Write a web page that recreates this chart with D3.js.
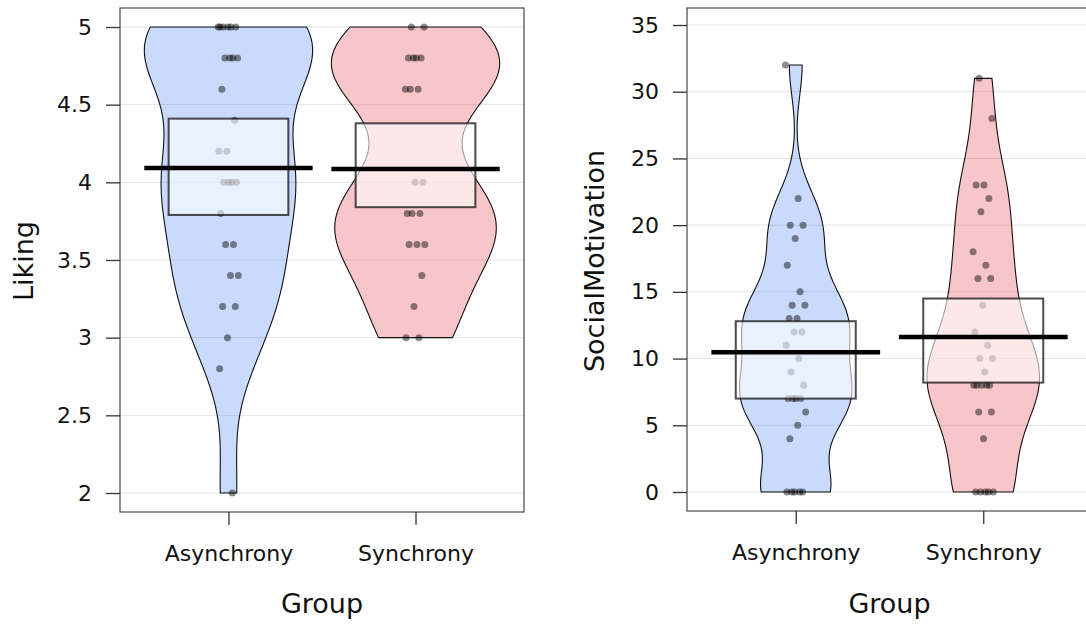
<!DOCTYPE html>
<html lang="en">
<head>
<meta charset="utf-8">
<title>Pirate plots</title>
<script src="https://cdn.jsdelivr.net/npm/d3@7"></script>
<style>
  body { margin: 0; background: #fff; }
  svg text { font-family: "DejaVu Sans", sans-serif; fill: #111; }
</style>
</head>
<body>
<svg id="chart" width="1086" height="624"></svg>
<script>
var groups = ["Asynchrony", "Synchrony"];

// Liking scores per group
var likingAsync = [5, 5, 5, 5, 5, 5, 4.8, 4.8, 4.8, 4.8, 4.6, 4.4, 4.2, 4.2, 4, 4, 4, 4, 3.8, 3.6, 3.6, 3.4, 3.4, 3.2, 3.2, 3, 2.8, 2];
var likingSync = [5, 5, 4.8, 4.8, 4.8, 4.8, 4.6, 4.6, 4.6, 4, 4, 3.8, 3.8, 3.8, 3.6, 3.6, 3.6, 3.4, 3.2, 3, 3];

// SocialMotivation scores per group
var motivAsync = [32, 22, 20, 20, 19, 17, 15, 14, 14, 13, 13, 12, 12, 11, 10, 9, 8, 7, 7, 7, 7, 6, 5, 4, 0, 0, 0, 0, 0];
var motivSync = [31, 28, 23, 23, 22, 21, 18, 17, 16, 16, 14, 12, 11, 10, 10, 9, 8, 8, 8, 8, 8, 6, 6, 4, 0, 0, 0, 0, 0];

// inference boxes (low, high)
var likingBand = [[3.79, 4.41], [3.84, 4.38]];
var motivBand = [[7.0, 12.8], [8.2, 14.5]];

var likingTicks = [2, 2.5, 3, 3.5, 4, 4.5, 5];
var motivTicks = [0, 5, 10, 15, 20, 25, 30, 35];

var beanColors = ["rgba(61,121,243,0.28)", "rgba(232,58,66,0.29)"];

var svg = d3.select("#chart");

function nrd0(v) {
  var s = v.slice().sort(d3.ascending);
  var iqr = d3.quantile(s, 0.75) - d3.quantile(s, 0.25);
  var lo = Math.min(d3.deviation(v), iqr / 1.34);
  return 0.9 * lo * Math.pow(v.length, -0.2);
}

function density(v, adjust) {
  var bw = nrd0(v) * adjust, lo = d3.min(v), hi = d3.max(v);
  return d3.range(0, 121).map(function(i) {
    var t = lo + (hi - lo) * i / 120;
    var d = d3.mean(v, function(x) { var u = (t - x) / bw; return Math.exp(-0.5 * u * u); });
    return [t, d];
  });
}

function panel(cfg) {
  var g = svg.append("g");
  var x = d3.scalePoint().domain(groups).range([cfg.left, cfg.right]).padding(0.58);
  var y = d3.scaleLinear().domain(cfg.domain).range(cfg.yRange);
  var step = x.step();

  // grid
  g.selectAll("line.grid").data(cfg.ticks).enter().append("line")
    .attr("x1", cfg.left).attr("x2", cfg.right)
    .attr("y1", function(d) { return y(d); }).attr("y2", function(d) { return y(d); })
    .attr("stroke", "#e3e3e3").attr("stroke-width", 1);

  cfg.series.forEach(function(vals, gi) {
    var cx = x(groups[gi]);
    var dens = density(vals, 0.85);
    var dmax = d3.max(dens, function(d) { return d[1]; });
    var half = cfg.beanWidth * step;
    var area = d3.area()
      .x0(function(d) { return cx - d[1] / dmax * half; })
      .x1(function(d) { return cx + d[1] / dmax * half; })
      .y(function(d) { return y(d[0]); });

    g.append("path").datum(dens)
      .attr("d", area)
      .attr("fill", beanColors[gi])
      .attr("stroke", "#111").attr("stroke-width", 1.1);

    // points, deterministic jitter
    g.selectAll("circle.p" + gi).data(vals).enter().append("circle")
      .attr("cx", function(d, i) { return cx + (((i * 0.618034 + gi * 0.3) % 1) - 0.5) * 0.11 * step; })
      .attr("cy", function(d) { return y(d); })
      .attr("r", 3.5)
      .attr("fill", "rgba(0,0,0,0.45)");

    var band = cfg.band[gi];
    g.append("rect")
      .attr("x", cx - 0.32 * step).attr("width", 0.64 * step)
      .attr("y", y(band[1])).attr("height", y(band[0]) - y(band[1]))
      .attr("fill", "rgba(255,255,255,0.6)")
      .attr("stroke", "rgba(30,30,30,0.8)").attr("stroke-width", 2);

    var m = d3.mean(vals);
    g.append("line")
      .attr("x1", cx - 0.45 * step).attr("x2", cx + 0.45 * step)
      .attr("y1", y(m)).attr("y2", y(m))
      .attr("stroke", "#000").attr("stroke-width", 4.5);
  });

  // frame
  g.append("rect")
    .attr("x", cfg.left).attr("y", cfg.top)
    .attr("width", cfg.right - cfg.left).attr("height", cfg.bottom - cfg.top)
    .attr("fill", "none").attr("stroke", "#555").attr("stroke-width", 1.3);

  var ya = g.append("g").attr("transform", "translate(" + cfg.left + ",0)")
    .call(d3.axisLeft(y).tickValues(cfg.ticks).tickSize(14).tickPadding(14).tickFormat(function(d) { return String(d); }));
  ya.select(".domain").remove();
  ya.selectAll("line").attr("stroke", "#333").attr("stroke-width", 1.3);
  ya.selectAll("text").style("font-size", "22px").attr("fill", "#111");

  var xa = g.append("g").attr("transform", "translate(0," + cfg.bottom + ")")
    .call(d3.axisBottom(x).tickSize(13).tickPadding(20));
  xa.select(".domain").remove();
  xa.selectAll("line").attr("stroke", "#333").attr("stroke-width", 1.3);
  xa.selectAll("text").style("font-size", "22px").attr("fill", "#111");

  g.append("text")
    .attr("x", (cfg.left + cfg.right) / 2).attr("y", 613)
    .attr("text-anchor", "middle").style("font-size", "27px")
    .text("Group");

  g.append("text")
    .attr("transform", "translate(" + cfg.titleX + ",261) rotate(-90)")
    .attr("text-anchor", "middle").style("font-size", "27px")
    .text(cfg.title);
}

panel({
  left: 120, right: 524, top: 8, bottom: 512,
  domain: [2, 5], yRange: [493, 27],
  ticks: likingTicks, series: [likingAsync, likingSync], band: likingBand,
  beanWidth: 0.45, title: "Liking", titleX: 33
});

panel({
  left: 687, right: 1092, top: 8, bottom: 511,
  domain: [0, 35], yRange: [492, 25],
  ticks: motivTicks, series: [motivAsync, motivSync], band: motivBand,
  beanWidth: 0.30, title: "SocialMotivation", titleX: 604
});
</script>
</body>
</html>
